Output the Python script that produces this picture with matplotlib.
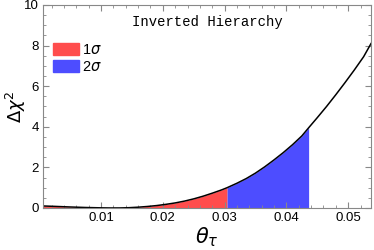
import numpy as np
import matplotlib.pyplot as plt
from matplotlib.patches import Patch
from matplotlib.ticker import MultipleLocator

# Kurve
theta = [0.0006, 0.0025, 0.005, 0.0075, 0.010, 0.0115, 0.013, 0.0145, 0.016,
         0.0175, 0.019, 0.0205, 0.022, 0.0235, 0.025, 0.0265, 0.028, 0.0295,
         0.0304, 0.032, 0.0335, 0.035, 0.0365, 0.038, 0.0395, 0.041, 0.0425,
         0.0436, 0.045, 0.0465, 0.048, 0.0495, 0.051, 0.0525, 0.0537]
dchi2 = [0.10, 0.08, 0.05, 0.025, 0.008, 0.002, 0.003, 0.015, 0.04,
         0.075, 0.12, 0.18, 0.25, 0.34, 0.45, 0.58, 0.73, 0.89,
         1.0, 1.22, 1.45, 1.72, 2.03, 2.37, 2.73, 3.12, 3.55,
         3.95, 4.45, 5.0, 5.58, 6.18, 6.8, 7.45, 8.1]

one_sigma = 0.0304
two_sigma = 0.0436
labels = ['1$\\sigma$', '2$\\sigma$']
title = 'Inverted Hierarchy'

red = '#ff4d4d'
blue = '#4d4dff'

plt.rcParams['font.family'] = ['Liberation Sans', 'DejaVu Sans']
plt.rcParams['mathtext.fontset'] = 'dejavusans'

fig = plt.figure(figsize=(3.74, 2.5), dpi=100)
ax = fig.add_axes([0.115, 0.168, 0.877, 0.812])

th = np.array(theta)
y = np.array(dchi2)
ax.fill_between(th, 0, y, where=th <= one_sigma, color=red, linewidth=0)
ax.fill_between(th, 0, y, where=(th >= one_sigma) & (th <= two_sigma), color=blue, linewidth=0)
ax.plot(th, y, color='black', lw=1.1)

ax.set_xlim(0.0006, 0.0537)
ax.set_ylim(0, 10)
ax.xaxis.set_minor_locator(MultipleLocator(0.002))
ax.yaxis.set_major_locator(MultipleLocator(2))
ax.yaxis.set_minor_locator(MultipleLocator(0.5))
ax.set_xticks([0.01, 0.02, 0.03, 0.04, 0.05])
ax.set_xticklabels(['0.01', '0.02', '0.03', '0.04', '0.05'])
ax.tick_params(which='both', direction='in', top=True, right=True, color='#888888',
               labelsize=9.5, pad=3)
ax.tick_params(which='major', length=4)
ax.tick_params(which='minor', length=2)
for s in ax.spines.values():
    s.set_color('#888888')
    s.set_linewidth(0.8)

ax.set_xlabel('$\\theta_\\tau$', fontsize=15, labelpad=1)
ax.set_ylabel('$\\Delta\\chi^2$', fontsize=13)
ax.yaxis.set_label_coords(-0.045, 0.5)

ax.text(0.5, 0.915, title, transform=ax.transAxes, family='Liberation Mono',
        fontsize=10, ha='center', va='center')

handles = [Patch(color=red), Patch(color=blue)]
ax.legend(handles, labels, loc='upper left', bbox_to_anchor=(0.0, 0.865), frameon=False,
          fontsize=10.5, handlelength=1.75, handleheight=0.9, handletextpad=0.2,
          labelspacing=0.25, borderaxespad=0.3)

fig.savefig('out.png', dpi=100)
